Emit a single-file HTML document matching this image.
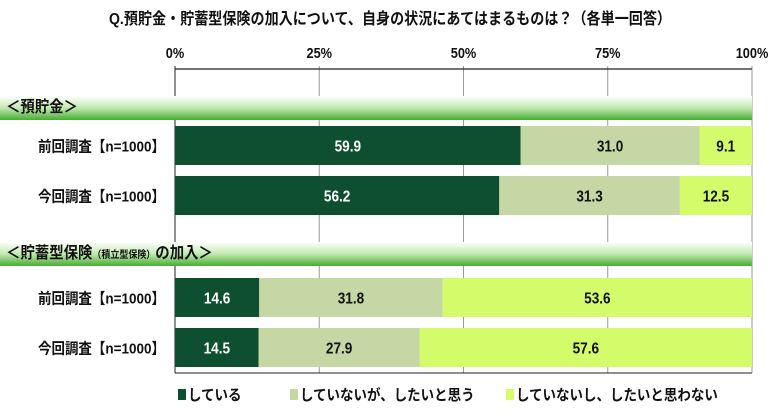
<!DOCTYPE html>
<html><head><meta charset="utf-8"><style>
body{margin:0;background:#fff;font-family:"Liberation Sans","Noto Sans CJK JP",sans-serif;}
</style></head><body>
<svg id="c" width="780" height="412" xmlns="http://www.w3.org/2000/svg">
<defs><linearGradient id="g" x1="0" y1="0" x2="0" y2="1">
<stop offset="0" stop-color="#ffffff"/><stop offset="0.5" stop-color="#c2e8b0"/><stop offset="1" stop-color="#46ad33"/></linearGradient></defs>
</svg>
<script>
const categories=["前回調査【n=1000】","今回調査【n=1000】","前回調査【n=1000】","今回調査【n=1000】"];
const sDoing=[59.9,56.2,14.6,14.5];
const sWant=[31.0,31.3,31.8,27.9];
const sNot=[9.1,12.5,53.6,57.6];
const ticks=[0,25,50,75,100];
const legendLabels=["している","していないが、したいと思う","していないし、したいと思わない"];
const colors=["#0d4f2f","#c5d7a4","#d4fb6a"];
const textColors=["#fff","#111","#111"];
const rowY=[126,176,278,328];
const x0=175,x1=752;
const X=v=>x0+(x1-x0)*v/100;
const svg=document.getElementById('c');
const NS="http://www.w3.org/2000/svg";
function mk(t,a,txt){const e=document.createElementNS(NS,t);for(const k in a)e.setAttribute(k,a[k]);if(txt!==undefined)e.textContent=txt;svg.appendChild(e);return e;}
function sx(e,x,s){e.setAttribute('transform','translate('+x+',0) scale('+s+',1) translate('+(-x)+',0)');}
let e=mk('text',{x:390,y:24,'text-anchor':'middle','font-size':16,'font-weight':'bold',fill:'#111'},"Q.預貯金・貯蓄型保険の加入について、自身の状況にあてはまるものは？（各単一回答）");
sx(e,390,0.88);


ticks.forEach(t=>{
 let l=mk('line',{x1:X(t),x2:X(t),y1:66,y2:373,stroke:'#999','stroke-width':1});
 
 
 let tx=mk('text',{x:X(t),y:58,'text-anchor':'middle','font-size':15,'font-weight':'bold',fill:'#111'},t+"%");
 sx(tx,X(t),0.85);
 
 
});
e=mk('line',{x1:x0,x2:x1,y1:69,y2:69,stroke:'#222','stroke-width':1.2});


e=mk('line',{x1:x0,x2:x1,y1:373,y2:373,stroke:'#222','stroke-width':1});


e=mk('line',{x1:x0,x2:x0,y1:66,y2:373,stroke:'#222','stroke-width':1});


[[96,"＜預貯金＞",'section-savings'],[242,null,'section-insurance']].forEach(([y,t,n])=>{
 let r=mk('rect',{x:0,y:y,width:x1,height:24,fill:'url(#g)'});
 
 
 let tx=mk('text',{x:6,y:y+16,'font-size':16,'font-weight':'bold',fill:'#111'});
 
 
 if(t)tx.textContent=t;else tx.innerHTML='＜貯蓄型保険<tspan font-size="10">（積立型保険）</tspan>の加入＞';
 sx(tx,6,0.9);
});
categories.forEach((c,i)=>{
 const y=rowY[i],h=39;
 let tx=mk('text',{x:165,y:y+h/2+6,'text-anchor':'end','font-size':15,'font-weight':'bold',fill:'#111'},c);
 sx(tx,165,0.9);
 
 
 let acc=0;
 [sDoing[i],sWant[i],sNot[i]].forEach((v,k)=>{
  let r=mk('rect',{x:X(acc),y:y,width:X(acc+v)-X(acc),height:h,fill:colors[k]});
  
  
  const cx=(X(acc)+X(acc+v))/2;
  let t=mk('text',{x:cx,y:y+h/2+6,'text-anchor':'middle','font-size':16,'font-weight':'bold',fill:textColors[k]},v.toFixed(1));
  sx(t,cx,0.85);
  
  
  acc+=v;
 });
});
const lx=[178,290,506];
legendLabels.forEach((l,k)=>{
 let r=mk('rect',{x:lx[k],y:389,width:8,height:11,fill:colors[k]});
 
 
 let t=mk('text',{x:lx[k]+10,y:400,'font-size':15,'font-weight':'bold',fill:'#111'},l);
 sx(t,lx[k]+10,0.9);
 
 
});
</script>
</body></html>
